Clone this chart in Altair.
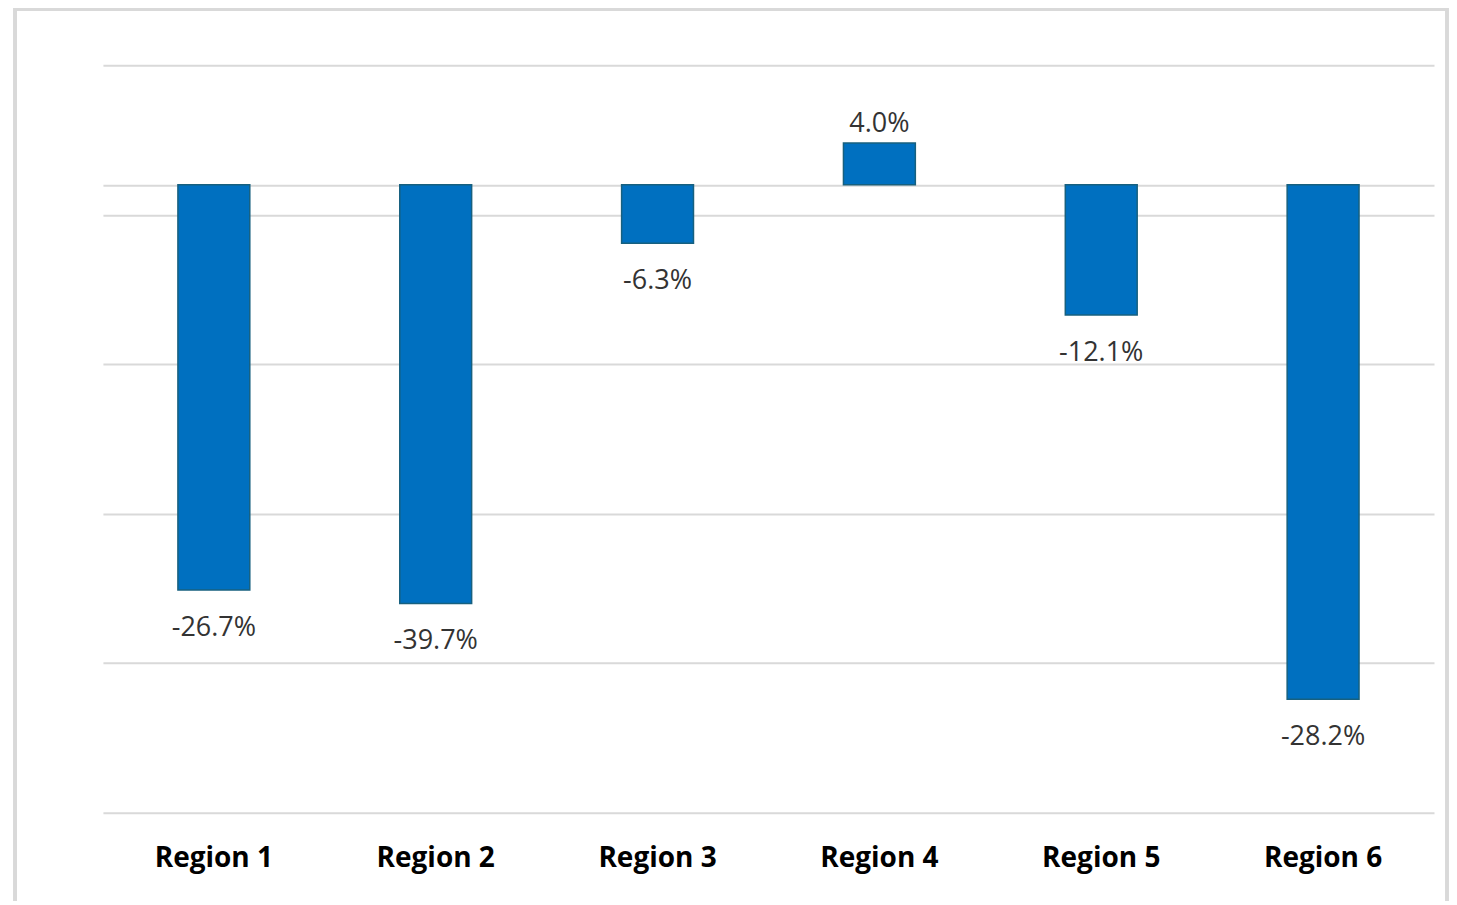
import altair as alt
import pandas as pd

regions = ["Region 1", "Region 2", "Region 3", "Region 4", "Region 5", "Region 6"]
bar_values = [-27.1, -28.0, -3.9, 2.8, -8.7, -34.4]
labels = ["-26.7%", "-39.7%", "-6.3%", "4.0%", "-12.1%", "-28.2%"]
grid_values = [8, 0, -2, -12, -22, -32, -42]

df = pd.DataFrame({"region": regions, "value": bar_values, "label": labels})

x = alt.X("region:N", sort=regions, title=None,
          scale=alt.Scale(paddingInner=0.676, paddingOuter=0.338),
          axis=alt.Axis(labelAngle=0, labelFont="Open Sans", labelFontSize=28,
                        labelFontWeight="bold", labelColor="#000000",
                        ticks=False, domain=False, grid=False, labelPadding=32))
y = alt.Y("value:Q", title=None,
          scale=alt.Scale(domain=[-42, 8], nice=False, zero=False),
          axis=alt.Axis(values=grid_values, labels=False, ticks=False, domain=False,
                        grid=True, gridColor="#d9d9d9", gridWidth=2))

frame = alt.Chart(df).mark_rect(fill=None, stroke="#d9d9d9", strokeWidth=3).encode(
    x=alt.value(-88), x2=alt.value(1345), y=alt.value(-56), y2=alt.value(900))

bars = alt.Chart(df).mark_bar(color="#0070c0", stroke="#17607f", strokeWidth=1.5).encode(
    x=x, y=y, y2=alt.datum(0))

neg = alt.Chart(df).transform_filter("datum.value < 0").mark_text(
    font="Open Sans", fontSize=27, color="#333333", baseline="middle", dy=38).encode(
    x=alt.X("region:N", sort=regions), y=alt.Y("value:Q"), text="label:N")
pos = alt.Chart(df).transform_filter("datum.value >= 0").mark_text(
    font="Open Sans", fontSize=27, color="#333333", baseline="middle", dy=-19).encode(
    x=alt.X("region:N", sort=regions), y=alt.Y("value:Q"), text="label:N")

chart = alt.layer(frame, bars, neg, pos).properties(
    width=1332, height=748,
    background="white",
    autosize=alt.AutoSizeParams(type="none"),
    padding={"left": 95, "top": 57, "right": 15, "bottom": 88},
).configure_view(strokeWidth=0, stroke="transparent")

chart.save("out.html", embed_options={"renderer": "svg", "actions": False})
